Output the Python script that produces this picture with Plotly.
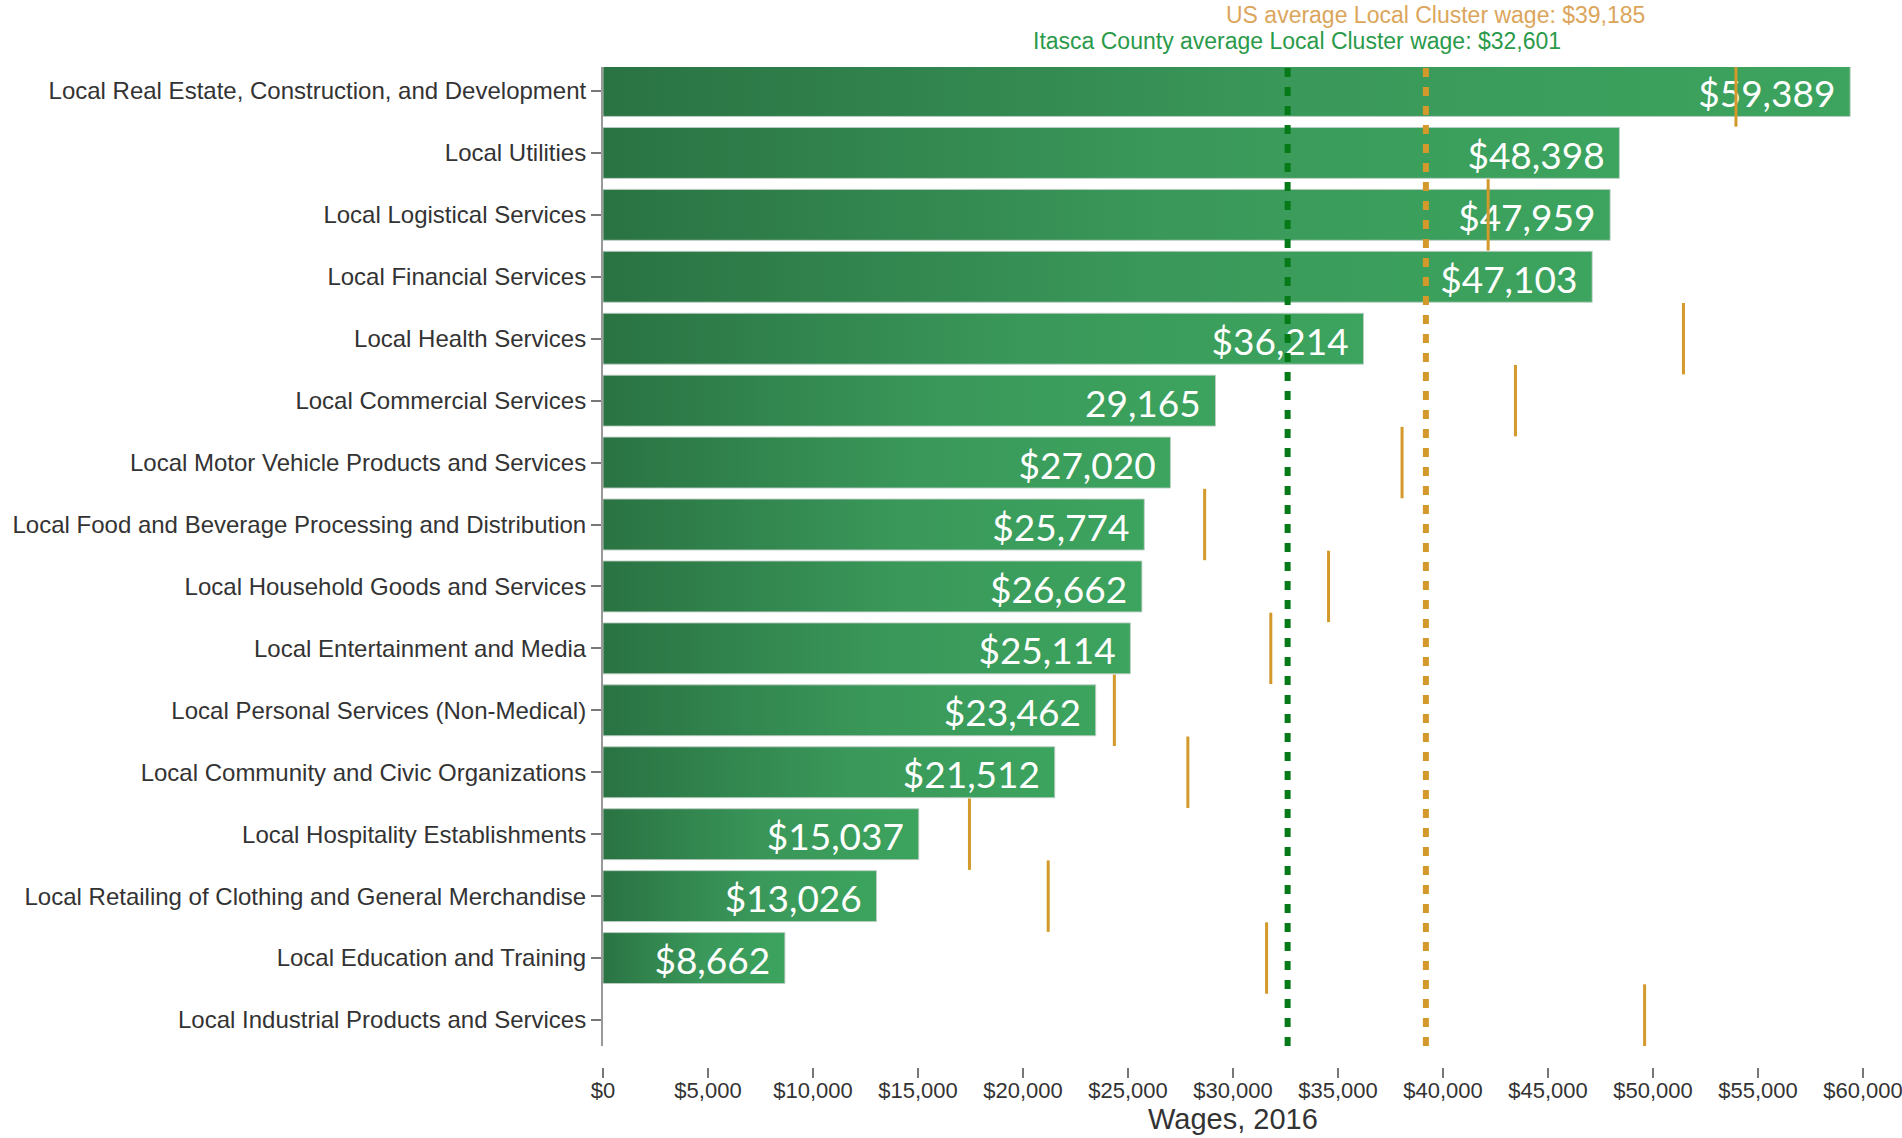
import plotly.graph_objects as go

categories = [
    "Local Real Estate, Construction, and Development",
    "Local Utilities",
    "Local Logistical Services",
    "Local Financial Services",
    "Local Health Services",
    "Local Commercial Services",
    "Local Motor Vehicle Products and Services",
    "Local Food and Beverage Processing and Distribution",
    "Local Household Goods and Services",
    "Local Entertainment and Media",
    "Local Personal Services (Non-Medical)",
    "Local Community and Civic Organizations",
    "Local Hospitality Establishments",
    "Local Retailing of Clothing and General Merchandise",
    "Local Education and Training",
    "Local Industrial Products and Services",
]
county_wages = [59389, 48398, 47959, 47103, 36214, 29165, 27020, 25774, 25662,
                25114, 23462, 21512, 15037, 13026, 8662, None]
wage_labels = ["$59,389", "$48,398", "$47,959", "$47,103", "$36,214", "29,165",
               "$27,020", "$25,774", "$26,662", "$25,114", "$23,462", "$21,512",
               "$15,037", "$13,026", "$8,662", ""]
us_wages = [53950, None, 42150, None, 51450, 43450, 38050, 28650, 34550,
            31800, 24350, 27850, 17450, 21200, 31600, 49600]
county_avg = 32601
us_avg = 39185
county_avg_text = "Itasca County average Local Cluster wage: $32,601"
us_avg_text = "US average Local Cluster wage: $39,185"
x_ticks = [0, 5000, 10000, 15000, 20000, 25000, 30000, 35000, 40000, 45000,
           50000, 55000, 60000]
x_title = "Wages, 2016"

GREEN_DOT = "#067a18"
ORANGE = "#d3992b"
HALF = 0.411        # half bar thickness in band units
LABEL_DROP = 0.11   # small downward nudge of the value labels (band units)

fig = go.Figure()
idx = list(range(len(categories)))

# bars with horizontal gradient
for i, v in zip(idx, county_wages):
    if v is None:
        continue
    fig.add_trace(go.Scatter(
        x=[0, v, v, 0, 0],
        y=[i - HALF, i - HALF, i + HALF, i + HALF, i - HALF],
        mode="lines", fill="toself",
        line=dict(color="rgba(190,205,195,0.9)", width=1),
        fillgradient=dict(type="horizontal",
                          colorscale=[[0, "#2a7343"], [0.55, "#3a985a"], [1, "#3ca45e"]]),
        hoverinfo="skip", showlegend=False,
    ))

# value labels
lx = [v for v in county_wages if v is not None]
ly = [i + LABEL_DROP for i, v in zip(idx, county_wages) if v is not None]
lt = [t for t, v in zip(wage_labels, county_wages) if v is not None]
fig.add_trace(go.Scatter(
    x=lx, y=ly, text=lt, mode="markers+text", textposition="middle left",
    marker=dict(size=22, opacity=0),
    textfont=dict(family="Lato", size=37, color="white"),
    hoverinfo="skip", showlegend=False,
))

# US per-cluster markers
mx = [v for v in us_wages if v is not None]
my = [i for i, v in zip(idx, us_wages) if v is not None]
fig.add_trace(go.Scatter(
    x=mx, y=my, mode="markers",
    marker=dict(symbol="line-ns", size=51, line=dict(color=ORANGE, width=3)),
    hoverinfo="skip", showlegend=False,
))

# average lines
fig.add_shape(type="line", xref="x", yref="y domain", x0=county_avg, x1=county_avg,
              y0=0, y1=1, line=dict(color=GREEN_DOT, width=6, dash="9px,10px"), layer="above")
fig.add_shape(type="line", xref="x", yref="y domain", x0=us_avg, x1=us_avg,
              y0=0, y1=1, line=dict(color=ORANGE, width=6, dash="9px,10px"), layer="above")

fig.add_annotation(x=us_avg, xref="x", y=1, yref="paper", text=us_avg_text,
                   showarrow=False, xanchor="center", yanchor="middle", xshift=10, yshift=52,
                   font=dict(family="Liberation Sans, Arial", size=23, color="#dba65c"))
fig.add_annotation(x=county_avg, xref="x", y=1, yref="paper", text=county_avg_text,
                   showarrow=False, xanchor="center", yanchor="middle", xshift=9, yshift=26,
                   font=dict(family="Liberation Sans, Arial", size=23, color="#2a9a4a"))

# x-axis title
fig.add_annotation(x=0.5, xref="paper", y=0, yref="paper", text=x_title,
                   showarrow=False, xanchor="center", yanchor="middle", yshift=-52,
                   font=dict(family="Liberation Sans, Arial", size=29, color="#333"))

fig.update_layout(
    width=1902, height=1138, autosize=False,
    margin=dict(l=603, r=39, t=67, b=71),
    plot_bgcolor="white", paper_bgcolor="white",
    showlegend=False,
    xaxis=dict(
        range=[0, 60000], tickvals=x_ticks,
        ticktext=["$" + format(t, ",") for t in x_ticks],
        showgrid=False, zeroline=False, showline=False, automargin=False,
        ticks="outside", ticklen=10, tickwidth=2, tickcolor="#777",
        ticklabeloverflow="allow", ticklabelstandoff=-6,
        tickfont=dict(family="Liberation Sans, Arial", size=22, color="#333"),
        anchor="free", position=0,
    ),
    yaxis=dict(
        range=[15.42, -0.387], domain=[0.021, 1], automargin=False,
        tickvals=idx, ticktext=categories,
        showgrid=False, zeroline=False,
        showline=True, linecolor="#999", linewidth=2,
        ticks="outside", ticklen=10, tickwidth=2, tickcolor="#777",
        tickfont=dict(family="Liberation Sans, Arial", size=24, color="#333"),
    ),
)

fig.write_html("out.html", config={"displayModeBar": False},
               post_script="document.body.style.margin='0';")
